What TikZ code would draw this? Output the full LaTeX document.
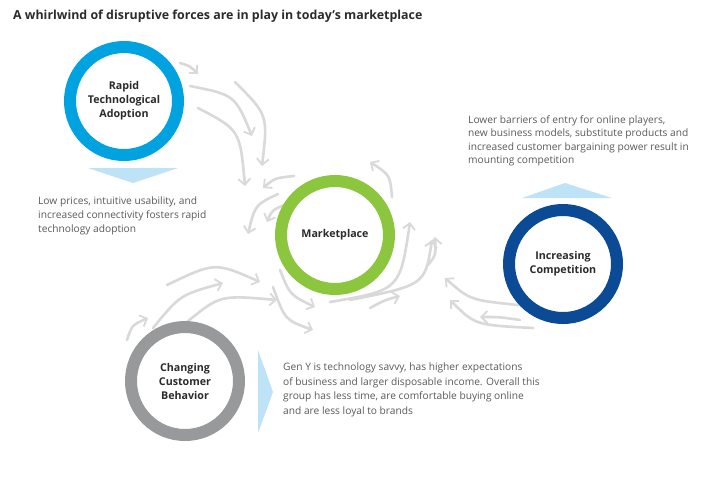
\documentclass[tikz,border=0pt]{standalone}
\usepackage{fontspec}
\setmainfont{Open Sans}
\usetikzlibrary{arrows.meta}
\definecolor{rapid}{HTML}{00A3E0}
\definecolor{market}{HTML}{8CC63F}
\definecolor{compet}{HTML}{0B4B96}
\definecolor{behav}{HTML}{97999B}
\definecolor{tri}{HTML}{BEE3F6}
\definecolor{swirl}{HTML}{D9D9D9}
\definecolor{bodytxt}{HTML}{5A5A5A}
\definecolor{darktxt}{HTML}{2B2B2B}
\tikzset{
  ring/.style={circle, line width=12pt, minimum size=108pt, inner sep=0pt,
    align=center, text=darktxt, font=\fontsize{10.7}{14}\selectfont\bfseries},
  bodytext/.style={anchor=north west, inner sep=0pt, align=left, text=bodytxt,
    font=\fontsize{10.2}{14}\selectfont},
  titletext/.style={anchor=north west, inner sep=0pt, text=darktxt,
    font=\fontsize{12.4}{14}\selectfont\bfseries},
  swirlarrow/.style={draw=swirl, line width=2.6pt, line cap=round,
    -{Straight Barb[length=6pt,width=12pt,line width=1.8pt]}},
  pointer/.style={fill=tri, draw=none}
}
\begin{document}
\begin{tikzpicture}[x=1pt,y=-1pt]
\useasboundingbox (0,0) rectangle (720,480);
\fill[white] (0,0) rectangle (720,480);

% title
\node[titletext] (title) at (13,10) {A whirlwind of disruptive forces are in play in today’s marketplace};

% swirl arrows (decorative)
\draw[swirlarrow] (180,63) .. controls (190,66) .. (198,74);
\draw[swirlarrow] (190,86) .. controls (235,95) .. (252,136);
\draw[swirlarrow] (235,82) .. controls (268,115) .. (262,166);
\draw[swirlarrow] (198,108) .. controls (240,130) .. (245,186);
\draw[swirlarrow] (294,176) .. controls (275,178) .. (263,188);
\draw[swirlarrow] (278,194) .. controls (255,205) .. (248,234);
\draw[swirlarrow] (287,204) .. controls (272,210) .. (267,222);
\draw[swirlarrow] (392,197) .. controls (390,175) .. (370,162);
\draw[swirlarrow] (330,302) .. controls (400,290) .. (410,222);
\draw[swirlarrow] (350,300) .. controls (425,285) .. (432,240);
\draw[swirlarrow] (370,308) .. controls (385,300) .. (400,296);
\draw[swirlarrow] (280,270) .. controls (290,295) .. (315,307);
\draw[swirlarrow] (273,287) .. controls (285,320) .. (313,330);
\draw[swirlarrow] (518,305) .. controls (470,300) .. (445,278);
\draw[swirlarrow] (533,328) .. controls (475,325) .. (450,300);
\draw[swirlarrow] (520,320) .. controls (500,317) .. (480,317);
\draw[swirlarrow] (428,265) .. controls (436,255) .. (435,237);
\draw[swirlarrow] (167,285) .. controls (215,262) .. (260,282);
\draw[swirlarrow] (153,328) .. controls (180,295) .. (223,283);
\draw[swirlarrow] (187,322) .. controls (220,295) .. (277,300);
\draw[swirlarrow] (127,340) .. controls (132,325) .. (148,318);

% rings
\node[ring, draw=rapid, fill=white] (rta) at (124,101) {Rapid\\Technological\\Adoption};
\node[ring, draw=market, fill=white] (mkt) at (335,235) {Marketplace};
\node[ring, draw=compet, fill=white] (ic) at (563,264) {Increasing\\Competition};
\node[ring, draw=behav, fill=white] (ccb) at (185,381) {Changing\\Customer\\Behavior};

% pointers
\fill[pointer] (88,168) -- (178,168) -- (133,183) -- cycle;
\fill[pointer] (522,198) -- (612,198) -- (565,183) -- cycle;
\fill[pointer] (258,350) -- (258,433) -- (273,392) -- cycle;

% descriptions
\node[bodytext] (t1) at (38,197) {Low prices, intuitive usability, and\\increased connectivity fosters rapid\\technology adoption};
\node[bodytext, font=\fontsize{10.2}{13.5}\selectfont] (t2) at (468,115) {Lower barriers of entry for online players,\\new business models, substitute products and\\increased customer bargaining power result in\\mounting competition};
\node[bodytext, font=\fontsize{10.2}{14.5}\selectfont] (t3) at (283,363) {Gen Y is technology savvy, has higher expectations\\of business and larger disposable income. Overall this\\group has less time, are comfortable buying online\\and are less loyal to brands};
\end{tikzpicture}
\end{document}
